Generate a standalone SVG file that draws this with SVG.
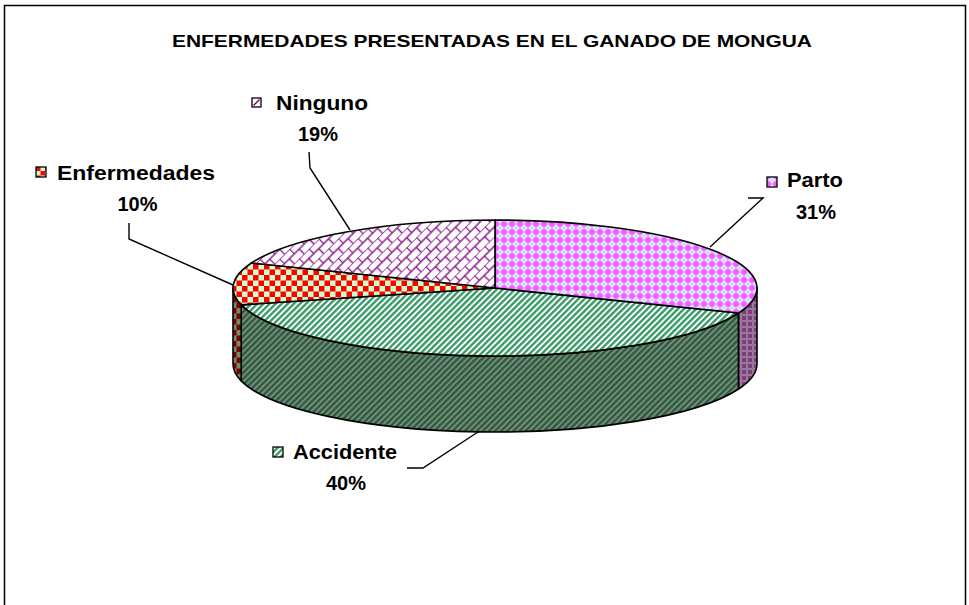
<svg xmlns="http://www.w3.org/2000/svg" width="969" height="605" viewBox="0 0 969 605">
<style>
  .lbl { font-family: "Liberation Sans", Arial, sans-serif; font-weight: bold; font-size: 20px; fill: #000; }
  .title { font-family: "Liberation Sans", Arial, sans-serif; font-weight: bold; font-size: 17px; fill: #000; }
  .edge { stroke: #000; stroke-width: 1.6; stroke-linejoin: round; }
  .lead { stroke: #000; stroke-width: 1.4; fill: none; }
  .key { stroke: #000; stroke-width: 1.3; }
</style>
<defs>
  <pattern id="pParto" width="8" height="8" patternUnits="userSpaceOnUse">
    <rect width="8" height="8" fill="#ff55ff"/>
    <rect x="2.5" y="0.5" width="3" height="7" fill="#d0f0ff"/>
    <rect x="0.5" y="2.5" width="7" height="3" fill="#d0f0ff"/>
    <rect x="3.5" y="3.5" width="1" height="1" fill="#ff66ff"/>
  </pattern>
  <pattern id="pPartoSide" width="6" height="6" patternUnits="userSpaceOnUse">
    <rect width="6" height="6" fill="#7c3f7c"/>
    <rect x="2" y="0" width="2" height="6" fill="#9a7a9a"/>
    <rect x="0" y="2" width="6" height="2" fill="#9a7a9a"/>
    <rect x="2.5" y="2.5" width="1" height="1" fill="#a04aa0"/>
  </pattern>
  <pattern id="pAcc" width="4.3" height="10" patternUnits="userSpaceOnUse" patternTransform="rotate(45)">
    <rect width="4.3" height="10" fill="#ffffff"/>
    <rect width="2.4" height="10" fill="#3a9a68"/>
  </pattern>
  <pattern id="pAccSide" width="4.3" height="10" patternUnits="userSpaceOnUse" patternTransform="rotate(45)">
    <rect width="4.3" height="10" fill="#7d8c82"/>
    <rect width="2.5" height="10" fill="#2c5e3c"/>
  </pattern>
  <pattern id="pEnf" width="11" height="11" patternUnits="userSpaceOnUse">
    <rect width="11" height="11" fill="#ccffcc"/>
    <rect width="5.5" height="5.5" fill="#ff0000"/>
    <rect x="5.5" y="5.5" width="5.5" height="5.5" fill="#ff0000"/>
  </pattern>
  <pattern id="pEnfSide" width="11" height="11" patternUnits="userSpaceOnUse">
    <rect width="11" height="11" fill="#6e8a72"/>
    <rect width="5.5" height="5.5" fill="#800000"/>
    <rect x="5.5" y="5.5" width="5.5" height="5.5" fill="#800000"/>
  </pattern>
  <pattern id="pNin" width="14" height="13.6" patternUnits="userSpaceOnUse" patternTransform="rotate(-45)">
    <rect width="14" height="13.6" fill="#ffffff"/>
    <path d="M0,0H14M0,6.8H14M0.5,0V6.8M7.5,6.8V13.6" stroke="#8a1a8a" stroke-width="1.4" fill="none"/>
  </pattern>
  <pattern id="pKeyEnf" width="9" height="9" patternUnits="userSpaceOnUse">
    <rect width="9" height="9" fill="#ccffcc"/>
    <rect x="4.5" y="0" width="4.5" height="4.5" fill="#ff0000"/>
    <rect x="0" y="4.5" width="4.5" height="4.5" fill="#ff0000"/>
  </pattern>
</defs>

<rect x="4.5" y="5.5" width="961" height="640" fill="#ffffff" stroke="#000" stroke-width="1.5"/>

<text class="title" x="492" y="47" text-anchor="middle" textLength="640" lengthAdjust="spacingAndGlyphs">ENFERMEDADES PRESENTADAS EN EL GANADO DE MONGUA</text>

<g id="connectors">
  <polyline class="lead" points="748,198 763,198 710,247"/>
  <polyline class="lead" points="407,468 423,468 481,430"/>
  <polyline class="lead" points="129,223 129,239 233,285"/>
  <polyline class="lead" points="309,152 310,168 350,230"/>
</g>

<g id="accidente">
  <path class="edge" fill="url(#pAccSide)" d="M738.6,313 A262,68 0 0 1 241.2,304.9 L241.2,380.9 A262,68 0 0 0 738.6,389 Z"/>
  <path class="edge" fill="url(#pAcc)" d="M495,288 L738.6,313 A262,68 0 0 1 241.2,304.9 Z"/>
  <rect class="key" x="273" y="447" width="10" height="10" fill="url(#pAcc)"/>
  <text class="lbl" x="293" y="459" textLength="104" lengthAdjust="spacingAndGlyphs">Accidente</text>
  <text class="lbl" x="346" y="490" text-anchor="middle">40%</text>
</g>

<g id="parto">
  <path class="edge" fill="url(#pPartoSide)" d="M757,288 A262,68 0 0 1 738.6,313 L738.6,389 A262,68 0 0 0 757,364 Z"/>
  <path class="edge" fill="url(#pParto)" d="M495,288 L495,220 A262,68 0 0 1 738.6,313 Z"/>
  <rect class="key" x="767" y="177" width="10" height="10" fill="url(#pParto)"/>
  <text class="lbl" x="787" y="187" textLength="56" lengthAdjust="spacingAndGlyphs">Parto</text>
  <text class="lbl" x="816" y="219" text-anchor="middle">31%</text>
</g>

<g id="enfermedades">
  <path class="edge" fill="url(#pEnfSide)" d="M241.2,304.9 A262,68 0 0 1 233,288 L233,364 A262,68 0 0 0 241.2,380.9 Z"/>
  <path class="edge" fill="url(#pEnf)" d="M495,288 L241.2,304.9 A262,68 0 0 1 251.4,263 Z"/>
  <rect class="key" x="36" y="167" width="10" height="10" fill="url(#pKeyEnf)"/>
  <text class="lbl" x="57" y="180" textLength="158" lengthAdjust="spacingAndGlyphs">Enfermedades</text>
  <text class="lbl" x="137.5" y="211" text-anchor="middle">10%</text>
</g>

<g id="ninguno">
  <path class="edge" fill="url(#pNin)" d="M495,288 L251.4,263 A262,68 0 0 1 495,220 Z"/>
  <rect class="key" x="252" y="98" width="9" height="9" fill="#ffffff"/>
  <path d="M253.5,105.5 L259.5,99.5" stroke="#800080" stroke-width="1.5"/>
  <text class="lbl" x="276" y="110" textLength="92" lengthAdjust="spacingAndGlyphs">Ninguno</text>
  <text class="lbl" x="318" y="141" text-anchor="middle">19%</text>
</g>
</svg>
